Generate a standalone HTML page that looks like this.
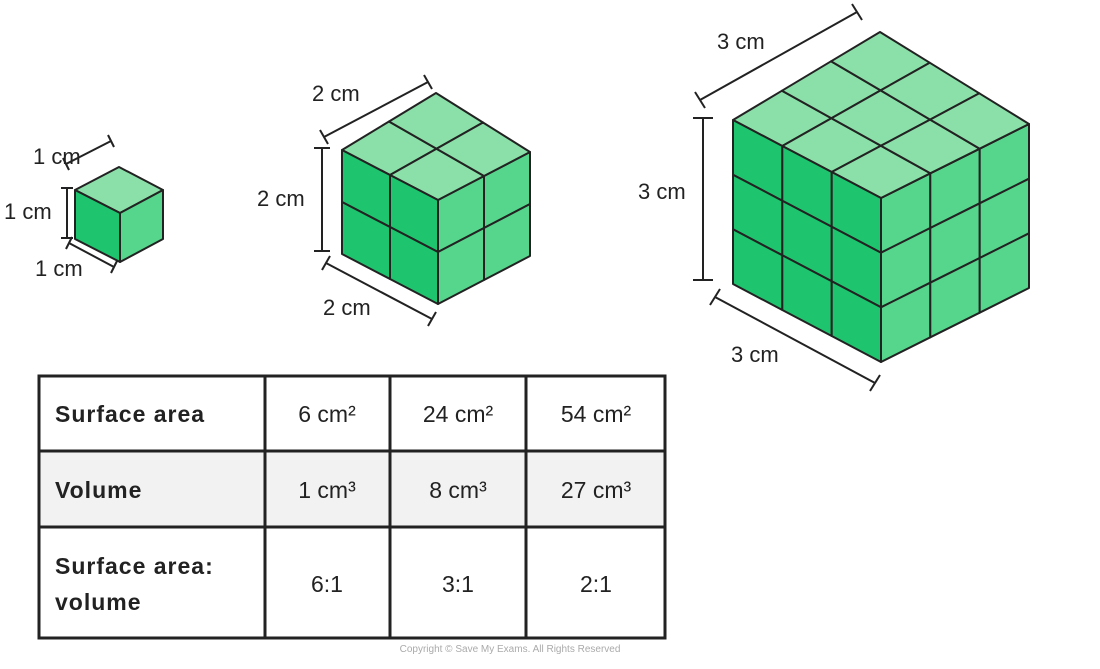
<!DOCTYPE html>
<html><head><meta charset="utf-8"><style>
body{margin:0;background:#fff;width:1100px;height:669px;overflow:hidden;font-family:"Liberation Sans",sans-serif}
svg{position:absolute;left:0;top:0}
.t{font-family:"Liberation Sans",sans-serif;font-size:22px;fill:#222}
</style></head><body>
<svg id="s" width="1100" height="669" viewBox="0 0 1100 669">
<g stroke="#222" stroke-width="2" fill="none">
<line x1="66" y1="164" x2="111" y2="141"/><line x1="63" y1="158" x2="69" y2="170"/><line x1="108" y1="135" x2="114" y2="147"/>
<line x1="67" y1="188" x2="67" y2="238"/><line x1="61" y1="188" x2="73" y2="188"/><line x1="61" y1="238" x2="73" y2="238"/>
<line x1="69" y1="243" x2="114" y2="267"/><line x1="66" y1="249" x2="72" y2="237"/><line x1="111" y1="273" x2="117" y2="261"/>
<line x1="324" y1="137" x2="428" y2="82"/><line x1="320" y1="130" x2="328" y2="144"/><line x1="424" y1="75" x2="432" y2="89"/>
<line x1="322" y1="148" x2="322" y2="251"/><line x1="314" y1="148" x2="330" y2="148"/><line x1="314" y1="251" x2="330" y2="251"/>
<line x1="326" y1="263" x2="432" y2="319"/><line x1="322" y1="270" x2="330" y2="256"/><line x1="428" y1="326" x2="436" y2="312"/>
<line x1="700" y1="100" x2="857" y2="12"/><line x1="695" y1="92" x2="705" y2="108"/><line x1="852" y1="4" x2="862" y2="20"/>
<line x1="703" y1="118" x2="703" y2="280"/><line x1="693" y1="118" x2="713" y2="118"/><line x1="693" y1="280" x2="713" y2="280"/>
<line x1="715" y1="297" x2="875" y2="383"/><line x1="710" y1="305" x2="720" y2="289"/><line x1="870" y1="391" x2="880" y2="375"/>
</g>
<g id="cubes"></g>
<text class="t" x="33" y="164">1 cm</text>
<text class="t" x="4" y="219">1 cm</text>
<text class="t" x="35" y="276">1 cm</text>
<text class="t" x="312" y="101">2 cm</text>
<text class="t" x="257" y="206">2 cm</text>
<text class="t" x="323" y="315">2 cm</text>
<text class="t" x="717" y="49">3 cm</text>
<text class="t" x="638" y="199">3 cm</text>
<text class="t" x="731" y="362">3 cm</text>
<rect x="40" y="452" width="625" height="75" fill="#f2f2f2"/>
<g stroke="#222" stroke-width="3" fill="none">
<rect x="39" y="376" width="626" height="262"/>
<line x1="39" y1="451" x2="665" y2="451"/><line x1="39" y1="527" x2="665" y2="527"/>
<line x1="265" y1="376" x2="265" y2="638"/><line x1="390" y1="376" x2="390" y2="638"/><line x1="526" y1="376" x2="526" y2="638"/>
</g>
<g class="t" style="font-size:23px">
<text x="55" y="422" font-weight="bold" letter-spacing="1">Surface area</text>
<text x="55" y="498" font-weight="bold" letter-spacing="1">Volume</text>
<text x="55" y="574" font-weight="bold" letter-spacing="1">Surface area:</text>
<text x="55" y="610" font-weight="bold" letter-spacing="1">volume</text>
<g text-anchor="middle">
<text x="327" y="422">6 cm²</text><text x="458" y="422">24 cm²</text><text x="596" y="422">54 cm²</text>
<text x="327" y="498">1 cm³</text><text x="458" y="498">8 cm³</text><text x="596" y="498">27 cm³</text>
<text x="327" y="592">6:1</text><text x="458" y="592">3:1</text><text x="596" y="592">2:1</text>
</g></g>
<text x="510" y="652" text-anchor="middle" style="font-size:10px;fill:#aaa">Copyright © Save My Exams. All Rights Reserved</text>
</svg>
<script>
var g=document.getElementById('cubes'),NS='http://www.w3.org/2000/svg';
function P(pts){return pts.map(function(p){return p[0].toFixed(1)+','+p[1].toFixed(1)}).join(' ')}
function poly(pts,fill){var e=document.createElementNS(NS,'polygon');e.setAttribute('points',P(pts));e.setAttribute('fill',fill);e.setAttribute('stroke','#222');e.setAttribute('stroke-width','2');e.setAttribute('stroke-linejoin','round');g.appendChild(e)}
function add(p,q,s){return [p[0]+q[0]*s,p[1]+q[1]*s]}
function bl(A,B,C,D,u,w){ // A=L, B=F, C=R, D=back ; u along L->F, w along L->back
 var x=(1-u)*(1-w)*A[0]+u*(1-w)*B[0]+u*w*C[0]+(1-u)*w*D[0];
 var y=(1-u)*(1-w)*A[1]+u*(1-w)*B[1]+u*w*C[1]+(1-u)*w*D[1];
 return [x,y];}
function cube(L,a,b,v,n,back){
 var F=add(L,a,1),R=add(F,b,1),Bk=back||add(L,b,1);
 for(var i=0;i<n;i++)for(var j=0;j<n;j++){
  poly([bl(L,F,R,Bk,i/n,j/n),bl(L,F,R,Bk,(i+1)/n,j/n),bl(L,F,R,Bk,(i+1)/n,(j+1)/n),bl(L,F,R,Bk,i/n,(j+1)/n)],'#8be0a9');
  var o2=add(add(L,a,i/n),v,j/n);
  poly([o2,add(o2,a,1/n),add(add(o2,a,1/n),v,1/n),add(o2,v,1/n)],'#1ec46e');
  var o3=add(add(F,b,i/n),v,j/n);
  poly([o3,add(o3,b,1/n),add(add(o3,b,1/n),v,1/n),add(o3,v,1/n)],'#55d68c');
 }
}
cube([75,190],[45,23],[43,-23],[0,49],1,[119,167]);
cube([342,150],[96,50],[92,-48],[0,104],2,[436,93]);
cube([733,120],[148,78],[148,-74],[0,164],3,[880,32]);
</script>
</body></html>
